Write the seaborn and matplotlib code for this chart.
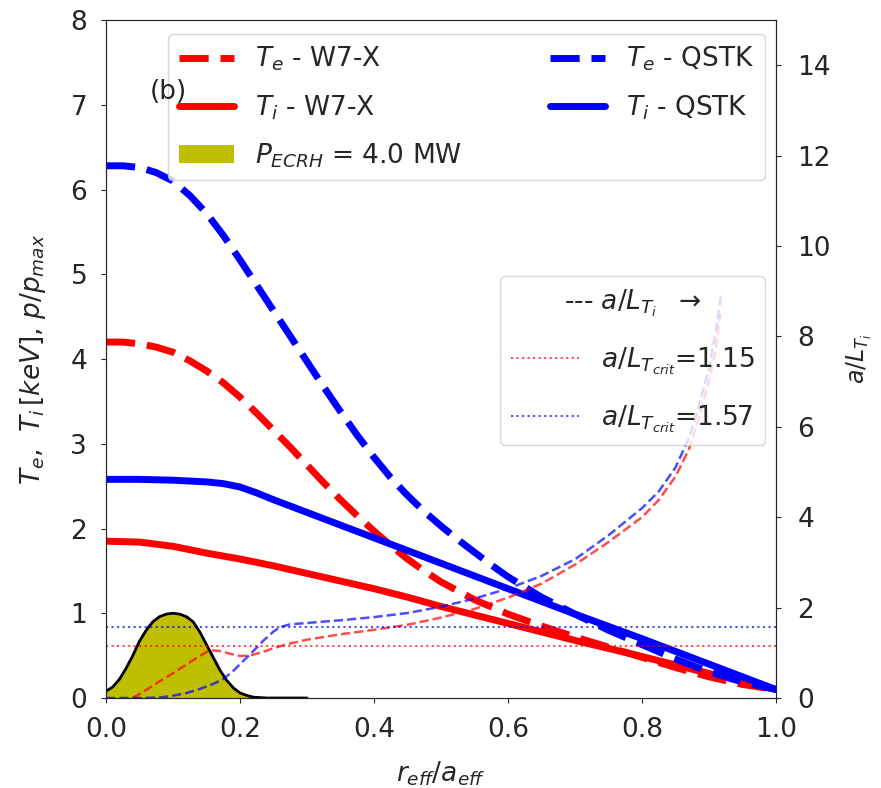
import numpy as np
import pandas as pd
import matplotlib
matplotlib.use("Agg")
import matplotlib.pyplot as plt
import seaborn as sns
from matplotlib.patches import Patch

# ---------------- data ----------------
r_te_q = [0, 0.025, 0.05, 0.075, 0.1, 0.125, 0.15, 0.175, 0.2, 0.225, 0.25,
          0.275, 0.3, 0.325, 0.35, 0.375, 0.4, 0.425, 0.45, 0.475, 0.5, 0.525,
          0.55, 0.575, 0.6, 0.65, 0.7, 0.75, 0.8, 0.85, 0.9, 0.95, 1.0]
te_qstk = [6.28, 6.28, 6.26, 6.2, 6.1, 5.93, 5.72, 5.46, 5.17, 4.87, 4.57,
           4.27, 3.97, 3.67, 3.38, 3.1, 2.84, 2.6, 2.39, 2.2, 2.03, 1.87,
           1.72, 1.57, 1.43, 1.19, 0.99, 0.8, 0.63, 0.46, 0.31, 0.19, 0.1]

r_te_w = [0, 0.025, 0.05, 0.075, 0.1, 0.125, 0.15, 0.175, 0.2, 0.225, 0.25,
          0.275, 0.3, 0.325, 0.35, 0.375, 0.4, 0.425, 0.45, 0.475, 0.5, 0.55,
          0.6, 0.65, 0.7, 0.75, 0.8, 0.85, 0.9, 0.95, 1.0]
te_w7x = [4.2, 4.2, 4.18, 4.14, 4.08, 3.98, 3.86, 3.72, 3.55, 3.36, 3.16,
          2.96, 2.75, 2.54, 2.34, 2.15, 1.97, 1.8, 1.64, 1.5, 1.37, 1.16,
          0.99, 0.85, 0.72, 0.6, 0.48, 0.36, 0.25, 0.16, 0.1]

r_ti_q = [0, 0.05, 0.1, 0.15, 0.175, 0.2, 0.225, 0.25, 0.3, 0.4, 0.5, 0.6,
          0.7, 0.8, 0.9, 1.0]
ti_qstk = [2.58, 2.58, 2.57, 2.55, 2.53, 2.49, 2.42, 2.34, 2.19, 1.89, 1.59,
           1.29, 0.99, 0.7, 0.4, 0.1]

r_ti_w = [0, 0.05, 0.1, 0.15, 0.2, 0.25, 0.3, 0.35, 0.4, 0.45, 0.5, 0.6, 0.7,
          0.8, 0.9, 1.0]
ti_w7x = [1.85, 1.84, 1.79, 1.71, 1.64, 1.56, 1.47, 1.38, 1.29, 1.19, 1.08,
          0.88, 0.68, 0.49, 0.29, 0.1]

r_ecrh = [0, 0.01, 0.02, 0.03, 0.04, 0.05, 0.06, 0.07, 0.08, 0.09, 0.1, 0.11,
          0.12, 0.13, 0.14, 0.15, 0.16, 0.17, 0.18, 0.19, 0.2, 0.21, 0.22,
          0.24, 0.3]
p_ecrh = [0.08, 0.13, 0.22, 0.35, 0.5, 0.67, 0.8, 0.9, 0.96, 0.99, 1.0, 0.99,
          0.96, 0.9, 0.78, 0.63, 0.48, 0.33, 0.21, 0.12, 0.06, 0.03, 0.01,
          0.0, 0.0]

r_lt_w = [0.04, 0.06, 0.08, 0.1, 0.12, 0.14, 0.155, 0.17, 0.185, 0.2, 0.215,
          0.23, 0.25, 0.27, 0.3, 0.35, 0.4, 0.45, 0.5, 0.55, 0.6, 0.65, 0.7,
          0.75, 0.8, 0.825, 0.85, 0.87, 0.885, 0.9, 0.91, 0.917]
lt_w7x = [0.0, 0.18, 0.37, 0.55, 0.74, 0.93, 1.06, 1.04, 0.98, 0.93, 0.94,
          1.0, 1.1, 1.19, 1.29, 1.41, 1.51, 1.62, 1.78, 1.97, 2.22, 2.53, 2.95,
          3.45, 4.0, 4.38, 4.9, 5.5, 6.2, 7.0, 7.7, 8.5]

r_lt_q = [0, 0.05, 0.08, 0.1, 0.12, 0.14, 0.16, 0.175, 0.19, 0.205, 0.22,
          0.235, 0.25, 0.26, 0.275, 0.3, 0.35, 0.4, 0.45, 0.5, 0.55, 0.6, 0.65,
          0.7, 0.75, 0.8, 0.825, 0.85, 0.87, 0.885, 0.9, 0.91, 0.918]
lt_qstk = [0.0, 0.0, 0.01, 0.05, 0.11, 0.2, 0.31, 0.42, 0.6, 0.82, 1.04, 1.27,
           1.47, 1.57, 1.63, 1.66, 1.72, 1.79, 1.88, 2.02, 2.2, 2.42, 2.7,
           3.07, 3.6, 4.2, 4.57, 5.1, 5.75, 6.45, 7.3, 8.1, 8.9]

crit_w7x = 1.15
crit_qstk = 1.57

labels = [r"$T_e$ - W7-X", r"$T_i$ - W7-X", r"$P_{ECRH}$ = 4.0 MW",
          r"$T_e$ - QSTK", r"$T_i$ - QSTK"]

# ---------------- plotting ----------------
sns.set_style("ticks")
plt.rcParams["font.family"] = ["DejaVu Sans"]
plt.rcParams["mathtext.fontset"] = "dejavusans"

fig = plt.figure(figsize=(8.81, 7.88), dpi=100)
ax = fig.add_axes([0.1203, 0.1142, 0.7605, 0.8604])
ax2 = ax.twinx()

FS = 19
lw_thick = 5
dash_thick = (4.2, 1.7)

# ECRH deposition
ax.fill_between(r_ecrh, 0, p_ecrh, color="y", lw=0, zorder=1)
sns.lineplot(x=r_ecrh, y=p_ecrh, ax=ax, color="k", lw=2, zorder=2,
             estimator=None, sort=False)

h_tew = sns.lineplot(x=r_te_w, y=te_w7x, ax=ax, color="red", lw=lw_thick,
                     estimator=None, sort=False, zorder=3).lines[-1]
h_tew.set_dashes(dash_thick)
h_tiw = sns.lineplot(x=r_ti_w, y=ti_w7x, ax=ax, color="red", lw=lw_thick,
                     ls="-", estimator=None, sort=False, zorder=3).lines[-1]
h_teq = sns.lineplot(x=r_te_q, y=te_qstk, ax=ax, color="blue", lw=lw_thick,
                     estimator=None, sort=False, zorder=3).lines[-1]
h_teq.set_dashes(dash_thick)
h_tiq = sns.lineplot(x=r_ti_q, y=ti_qstk, ax=ax, color="blue", lw=lw_thick,
                     ls="-", estimator=None, sort=False, zorder=3).lines[-1]
p_patch = Patch(facecolor="y", edgecolor="none")

ax.set_xlim(0, 1.0)
ax.set_ylim(0, 8)
ax.set_xticks(np.arange(0, 1.01, 0.2))
ax.set_yticks(range(0, 9))
ax.tick_params(axis="x", labelsize=FS, pad=10)
ax.tick_params(axis="y", labelsize=FS, pad=10)
ax.set_xlabel(r"$r_{eff}/a_{eff}$", fontsize=FS, labelpad=12)
ax.set_ylabel(r"$T_e$,  $T_i\,[keV]$, $p/p_{max}$", fontsize=FS, labelpad=16)

leg1 = ax.legend([h_tew, h_tiw, p_patch, h_teq, h_tiq], labels, ncol=2,
                 fontsize=FS, loc="upper left", mode="expand",
                 bbox_to_anchor=(0.0925, 0.754, 0.891, 0.225),
                 borderaxespad=0, handlelength=2.1, labelspacing=0.75)
leg1.set_zorder(5)
ax.text(0.066, 7.15, "(b)", fontsize=FS, va="center", ha="left", zorder=6)

# right axis: normalised gradients
sns.lineplot(x=r_lt_w, y=lt_w7x, ax=ax2, color="red", lw=1.8, ls="--",
             alpha=0.7, estimator=None, sort=False)
sns.lineplot(x=r_lt_q, y=lt_qstk, ax=ax2, color="blue", lw=1.8, ls="--",
             alpha=0.7, estimator=None, sort=False)
hl1 = ax2.axhline(crit_w7x, color="red", ls=":", lw=1.5, alpha=0.7)
hl2 = ax2.axhline(crit_qstk, color="blue", ls=":", lw=1.5, alpha=0.7)
ax2.set_ylim(0, 15)
ax2.set_yticks(range(0, 15, 2))
ax2.tick_params(labelsize=FS, pad=12)
ax2.set_ylabel(r"$a/L_{T_i}$", fontsize=FS - 2, labelpad=10)

leg2 = ax2.legend([hl1, hl2],
                  [r"$a/L_{T_{crit}}$=%.2f" % crit_w7x,
                   r"$a/L_{T_{crit}}$=%.2f" % crit_qstk],
                  title=r"--- $a/L_{T_i}$  $\rightarrow$",
                  title_fontsize=FS, fontsize=FS, loc="upper right",
                  bbox_to_anchor=(0.9836, 0.622), borderaxespad=0,
                  handlelength=2.6, labelspacing=1.0)

fig.savefig("out.png", dpi=100)
